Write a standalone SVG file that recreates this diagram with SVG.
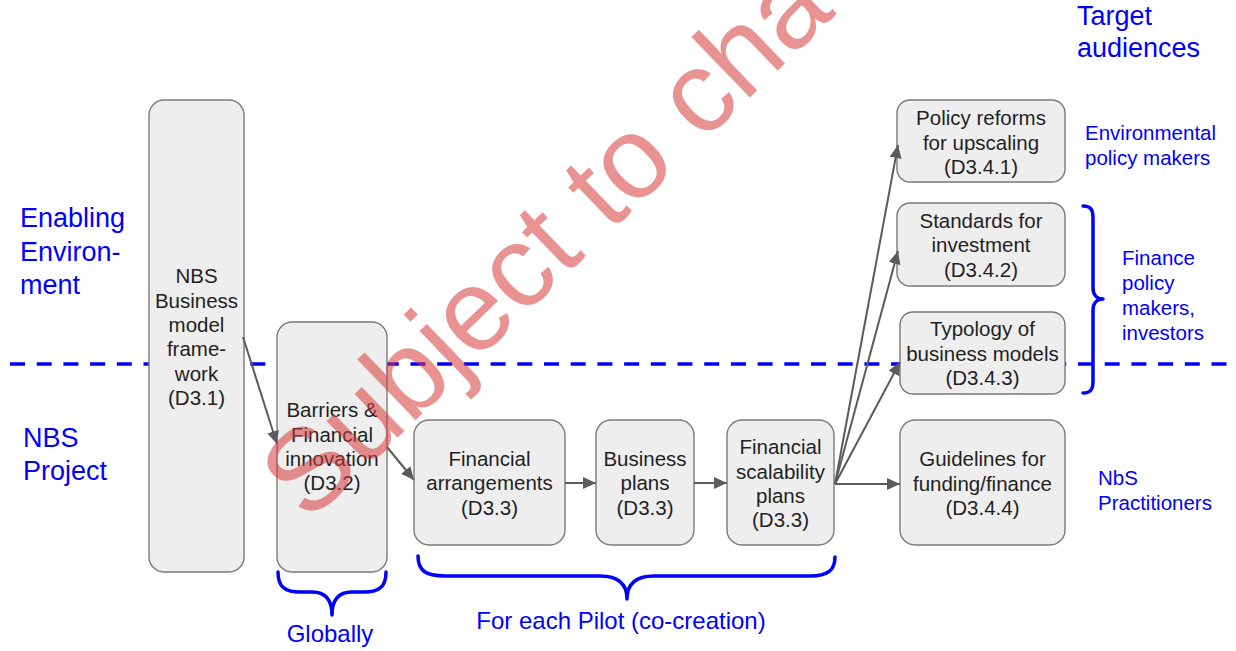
<svg xmlns="http://www.w3.org/2000/svg" width="1236" height="651" viewBox="0 0 1236 651">
<defs>
<style>
.box{fill:#eeeeee;stroke:#7a7a7a;stroke-width:1.4}
.t{font-family:"Liberation Sans",Arial,sans-serif;font-size:20.5px;fill:#1f1f1f;text-anchor:middle}
.b{font-family:"Liberation Sans",Arial,sans-serif;fill:#0000ff}
.bl{font-size:27px}
.bm{font-size:20.5px}
.bp{font-size:24px;text-anchor:middle}
.con{fill:none;stroke:#5b5b5b;stroke-width:2;marker-end:url(#ah)}
.brace{fill:none;stroke:#0000ff;stroke-width:3.5;stroke-linecap:round;stroke-linejoin:round}
</style>
<marker id="ah" markerUnits="userSpaceOnUse" markerWidth="14" markerHeight="12" refX="13" refY="6" orient="auto">
<path d="M0,0 L13,6 L0,12 Z" fill="#5b5b5b"/>
</marker>
</defs>
<rect width="1236" height="651" fill="#ffffff"/>

<line x1="10" y1="364" x2="1236" y2="364" stroke="#0000ff" stroke-width="3.5" stroke-dasharray="15 11.7"/>

<g id="n1"><rect class="box" x="149" y="100" width="95" height="472" rx="15"/>
<text class="t"><tspan x="196.5" y="283">NBS</tspan><tspan x="196.5" y="307.5">Business</tspan><tspan x="196.5" y="332">model</tspan><tspan x="196.5" y="356">frame-</tspan><tspan x="196.5" y="380.5">work</tspan><tspan x="196.5" y="405">(D3.1)</tspan></text></g>

<g id="n2"><rect class="box" x="277" y="322" width="110" height="250" rx="15"/>
<text class="t"><tspan x="332" y="417">Barriers &amp;</tspan><tspan x="332" y="442">Financial</tspan><tspan x="332" y="466">innovation</tspan><tspan x="332" y="490">(D3.2)</tspan></text></g>

<g id="n3"><rect class="box" x="414" y="420" width="151" height="125" rx="15"/>
<text class="t"><tspan x="489.5" y="466">Financial</tspan><tspan x="489.5" y="490">arrangements</tspan><tspan x="489.5" y="514.5">(D3.3)</tspan></text></g>

<g id="n4"><rect class="box" x="596" y="420" width="98" height="125" rx="15"/>
<text class="t"><tspan x="645" y="466">Business</tspan><tspan x="645" y="490">plans</tspan><tspan x="645" y="514.5">(D3.3)</tspan></text></g>

<g id="n5"><rect class="box" x="727" y="420" width="107" height="125" rx="15"/>
<text class="t"><tspan x="780.5" y="454">Financial</tspan><tspan x="780.5" y="478.5">scalability</tspan><tspan x="780.5" y="503">plans</tspan><tspan x="780.5" y="527">(D3.3)</tspan></text></g>

<g id="n6"><rect class="box" x="897" y="100" width="168" height="82" rx="13"/>
<text class="t"><tspan x="981" y="125">Policy reforms</tspan><tspan x="981" y="149.5">for upscaling</tspan><tspan x="981" y="174">(D3.4.1)</tspan></text></g>

<g id="n7"><rect class="box" x="897" y="203" width="168" height="83" rx="13"/>
<text class="t"><tspan x="981" y="227.5">Standards for</tspan><tspan x="981" y="252">investment</tspan><tspan x="981" y="276.5">(D3.4.2)</tspan></text></g>

<g id="n8"><rect class="box" x="900" y="312" width="165" height="82" rx="13"/>
<text class="t"><tspan x="982.5" y="336">Typology of</tspan><tspan x="982.5" y="360.5">business models</tspan><tspan x="982.5" y="385">(D3.4.3)</tspan></text></g>

<g id="n9"><rect class="box" x="900" y="420" width="165" height="125" rx="15"/>
<text class="t"><tspan x="982.5" y="466">Guidelines for</tspan><tspan x="982.5" y="491">funding/finance</tspan><tspan x="982.5" y="515">(D3.4.4)</tspan></text></g>

<g id="connectors">
<line class="con" x1="243" y1="337" x2="277" y2="444"/>
<line class="con" x1="387" y1="447" x2="414" y2="480"/>
<line class="con" x1="565" y1="483" x2="596" y2="483"/>
<line class="con" x1="694" y1="483" x2="727" y2="483"/>
<line class="con" x1="835" y1="484" x2="900" y2="484"/>
<line class="con" x1="835" y1="484" x2="898" y2="145"/>
<line class="con" x1="835" y1="484" x2="898" y2="251"/>
<line class="con" x1="835" y1="484" x2="900" y2="362"/>
</g>

<g id="braces">
<path class="brace" d="M1083,206 C1091,206 1093,210 1093,218 L1093,288 C1093,295 1097,299 1103,299 C1097,299 1093,303 1093,310 L1093,381 C1093,389 1091,393 1083,393"/>
<path class="brace" d="M278,572 C278,586 284,592 300,592 L312,592 C326,592 332,600 332,615 C332,600 338,592 352,592 L364,592 C380,592 386,586 386,572"/>
<path class="brace" d="M418,556 C418,570 425,576 445,576 L600,576 C618,576 627,584 627,599 C627,584 636,576 654,576 L810,576 C828,576 835,570 835,557"/>
</g>

<g id="labels">
<text class="b bl"><tspan x="20" y="227">Enabling</tspan><tspan x="20" y="261">Environ-</tspan><tspan x="20" y="294">ment</tspan></text>
<text class="b bl"><tspan x="23" y="447">NBS</tspan><tspan x="23" y="480">Project</tspan></text>
<text class="b bl"><tspan x="1077" y="25">Target</tspan><tspan x="1077" y="57">audiences</tspan></text>
<text class="b bm"><tspan x="1085" y="140">Environmental</tspan><tspan x="1085" y="165">policy makers</tspan></text>
<text class="b bm"><tspan x="1122" y="265">Finance</tspan><tspan x="1122" y="290">policy</tspan><tspan x="1122" y="315">makers,</tspan><tspan x="1122" y="340">investors</tspan></text>
<text class="b bm"><tspan x="1098" y="485">NbS</tspan><tspan x="1098" y="510">Practitioners</tspan></text>
<text class="b bp" x="330" y="642">Globally</text>
<text class="b bp" x="621" y="629">For each Pilot (co-creation)</text>
</g>

<g id="watermark" opacity="0.55">
<text transform="translate(308,524) rotate(-44)" x="0" y="0" font-family="'Liberation Sans',Arial,sans-serif" font-size="116" fill="#d63a3a">Subject to cha</text>
</g>
</svg>
